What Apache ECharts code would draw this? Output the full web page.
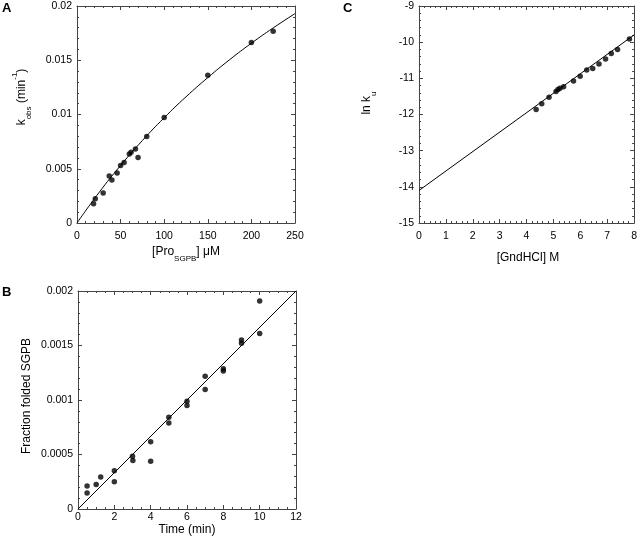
<!DOCTYPE html>
<html><head><meta charset="utf-8">
<script src="https://cdn.jsdelivr.net/npm/echarts@6/dist/echarts.min.js"></script>
<style>html,body{margin:0;padding:0;background:#fff}#c{width:640px;height:539px}</style>
</head><body><div id="c"></div>
<script>
// Panel A: k_obs vs [Pro_SGPB]
const aConc = [19, 21, 30, 37, 40, 46, 50, 54, 60, 62, 67, 70, 80, 100, 150, 200, 225];
const aKobs = [0.00178, 0.00224, 0.00276, 0.00433, 0.00396, 0.0046, 0.00531, 0.00558, 0.00635, 0.00653, 0.00681, 0.00604, 0.00798, 0.00972, 0.01362, 0.01663, 0.01767];
const aFitX = [0, 25, 50, 75, 100, 125, 150, 175, 200, 225, 250];
const aFitY = [0, 0.00278, 0.0053, 0.0076, 0.0097, 0.01163, 0.0134, 0.01505, 0.01657, 0.01798, 0.0193];
const aXTicks = [0, 50, 100, 150, 200, 250];
const aYTicks = [0, 0.005, 0.01, 0.015, 0.02];

// Panel B: fraction folded vs time
const bTime = [0.5, 0.5, 1, 1.25, 2, 2, 3, 3.02, 4, 4, 5, 5, 6, 6, 7, 7, 8, 8, 9, 9, 10, 10];
const bFrac = [0.000211, 0.000147, 0.000224, 0.000294, 0.000352, 0.000251, 0.000484, 0.000444, 0.000616, 0.000438, 0.000842, 0.00079, 0.000989, 0.000949, 0.001219, 0.001096, 0.001286, 0.001265, 0.00155, 0.00152, 0.001908, 0.001611];
const bFitX = [0, 12];
const bFitY = [0, 0.002];
const bXTicks = [0, 2, 4, 6, 8, 10, 12];
const bYTicks = [0, 0.0005, 0.001, 0.0015, 0.002];

// Panel C: ln k_u vs [GndHCl]
const cGnd = [4.357, 4.566, 4.837, 5.095, 5.169, 5.243, 5.378, 5.748, 5.994, 6.24, 6.462, 6.695, 6.94, 7.151, 7.385, 7.828];
const cLnKu = [-11.862, -11.705, -11.521, -11.365, -11.31, -11.273, -11.236, -11.071, -10.942, -10.767, -10.73, -10.601, -10.463, -10.316, -10.206, -9.911];
const cFitX = [0, 8];
const cFitY = [-14.1, -9.8];
const cXTicks = [0, 1, 2, 3, 4, 5, 6, 7, 8];
const cYTicks = [-15, -14, -13, -12, -11, -10, -9];

const FONT = '"Liberation Sans", Arial, Helvetica, sans-serif';
const LINE = '#444';

// major axis (with line + labels) or minor-tick-only axis
function mkAxis(grid, ticks, split, position, showLabel, margin, minor) {
  const step = ticks[1] - ticks[0];
  return {
    type: 'value', gridIndex: grid, position: position,
    min: ticks[0], max: ticks[ticks.length - 1],
    interval: minor ? step / split : step,
    axisLine: { show: !minor, onZero: false, lineStyle: { color: LINE, width: 1 } },
    axisTick: { show: true, inside: true, length: minor ? 2 : 4, lineStyle: { color: LINE, width: 1 } },
    splitLine: { show: false },
    axisLabel: { show: showLabel && !minor, color: '#000', fontSize: 10.5, fontFamily: FONT, margin: margin }
  };
}
function sides(grid, ticks, split, isX, margin) {
  const a = isX ? ['bottom', 'top'] : ['left', 'right'];
  return [
    mkAxis(grid, ticks, split, a[0], true, margin, false),
    mkAxis(grid, ticks, split, a[1], false, margin, false),
    mkAxis(grid, ticks, split, a[0], false, margin, true),
    mkAxis(grid, ticks, split, a[1], false, margin, true)
  ];
}
function pairs(xs, ys) { return xs.map((x, i) => [x, ys[i]]); }

const rich = {
  n: { fontSize: 12, fontFamily: FONT, lineHeight: 22, verticalAlign: 'middle', color: '#000' },
  s: { fontSize: 8, fontFamily: FONT, lineHeight: 8, verticalAlign: 'bottom', color: '#000' },
  p: { fontSize: 8, fontFamily: FONT, lineHeight: 8, verticalAlign: 'top', color: '#000' }
};
function label(text, x, y, rot) {
  return { type: 'text', x: x, y: y, rotation: rot ? Math.PI / 2 : 0,
    style: { text: text, rich: rich, align: 'center', verticalAlign: 'middle', font: '12px ' + FONT, fill: '#000' } };
}
function letter(t, x, y) {
  return { type: 'text', x: x, y: y, style: { text: t, font: 'bold 13px ' + FONT, fill: '#000' } };
}

const chart = echarts.init(document.getElementById('c'), null, { renderer: 'canvas' });
chart.setOption({
  animation: false,
  backgroundColor: '#fff',
  grid: [
    { left: 77, top: 6, width: 218, height: 217 },
    { left: 78, top: 291, width: 218, height: 218 },
    { left: 419, top: 6, width: 217, height: 217 }
  ],
  xAxis: [].concat(
    sides(0, aXTicks, 5, true, 8),
    sides(1, bXTicks, 4, true, 3),
    sides(2, cXTicks, 5, true, 8)
  ),
  yAxis: [].concat(
    sides(0, aYTicks, 5, false, 5),
    sides(1, bYTicks, 5, false, 5),
    sides(2, cYTicks, 5, false, 5)
  ),
  series: [
    { type: 'line', xAxisIndex: 0, yAxisIndex: 0, data: pairs(aFitX, aFitY), smooth: true, showSymbol: false, lineStyle: { color: '#000', width: 1 } },
    { type: 'scatter', xAxisIndex: 0, yAxisIndex: 0, data: pairs(aConc, aKobs), symbolSize: 5.5, itemStyle: { color: '#000' } },
    { type: 'line', xAxisIndex: 4, yAxisIndex: 4, data: pairs(bFitX, bFitY), showSymbol: false, lineStyle: { color: '#000', width: 1 } },
    { type: 'scatter', xAxisIndex: 4, yAxisIndex: 4, data: pairs(bTime, bFrac), symbolSize: 5.5, itemStyle: { color: '#000' } },
    { type: 'line', xAxisIndex: 8, yAxisIndex: 8, data: pairs(cFitX, cFitY), showSymbol: false, lineStyle: { color: '#000', width: 1 } },
    { type: 'scatter', xAxisIndex: 8, yAxisIndex: 8, data: pairs(cGnd, cLnKu), symbolSize: 5.5, itemStyle: { color: '#000' } }
  ],
  graphic: [
    letter('A', 2, 2), letter('B', 2, 286), letter('C', 343, 2),
    label('{n|[Pro}{s|SGPB}{n|] μM}', 186, 252, false),
    label('{n|k}{s|obs}{n| (min}{p|-1}{n|)}', 22, 97, true),
    label('{n|Time (min)}', 187, 530, false),
    label('{n|Fraction folded SGPB}', 27, 396, true),
    label('{n|[GndHCl] M}', 528, 258, false),
    label('{n|ln k}{s|u}', 367, 103, true)
  ]
});
</script>
</body></html>
